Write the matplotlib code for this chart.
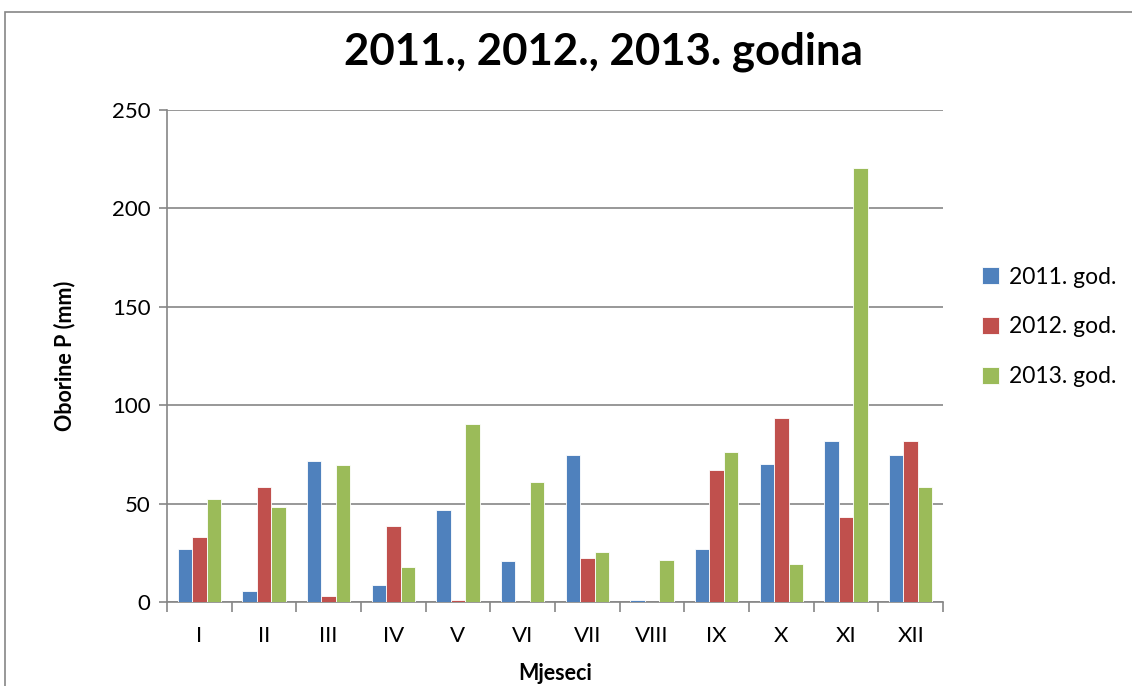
import matplotlib
matplotlib.use("Agg")
import matplotlib.pyplot as plt
import numpy as np
from matplotlib.patches import Rectangle

months = ["I", "II", "III", "IV", "V", "VI", "VII", "VIII", "IX", "X", "XI", "XII"]
series_names = ["2011. god.", "2012. god.", "2013. god."]
y2011 = [26.8, 5.6, 71.9, 8.8, 46.8, 20.8, 74.6, 1.0, 27.1, 70.2, 81.7, 74.6]
y2012 = [32.9, 58.6, 3.2, 38.5, 1.2, 0.0, 22.4, 0.0, 67.1, 93.6, 43.4, 82.0]
y2013 = [52.5, 48.1, 69.8, 17.8, 90.2, 60.8, 25.4, 21.5, 76.1, 19.5, 220.6, 58.6]
yticks = [0, 50, 100, 150, 200, 250]

colors = ["#4F81BD", "#C0504D", "#9BBB59"]
plt.rcParams['font.family'] = ['Lato', 'DejaVu Sans']

fig = plt.figure(figsize=(11.32, 6.86), dpi=100)
ax = fig.add_axes([167/1132, 1-602/686, (943-167)/1132, (602-110)/686])

# chart border
fig.patches.append(Rectangle((5/1132, -0.1), 1.2, 1-12/686+0.1, transform=fig.transFigure,
                             fill=False, edgecolor="#868686", linewidth=1.2))

x = np.arange(len(months))
w = 1/4.5
for i, (vals, c, name) in enumerate(zip([y2011, y2012, y2013], colors, series_names)):
    ax.bar(x + (i-1)*w, vals, width=w, color=c, edgecolor="#ffffff", linewidth=0.6,
           label=name, zorder=3)

ax.set_xlim(-0.5, len(months)-0.5)
ax.set_ylim(0, 250)
ax.set_yticks(yticks)
ax.set_yticklabels([str(t) for t in yticks], fontsize=16)
ax.set_xticks(x)
ax.set_xticklabels(months, fontsize=16)
ax.tick_params(axis='x', which='major', length=0, pad=17)
ax.set_xticks(np.arange(-0.5, len(months)), minor=True)
ax.tick_params(axis='x', which='minor', length=7, width=1.2, color="#868686", direction='out')
ax.tick_params(axis='y', length=6, width=1.2, color="#868686", direction='out', pad=6)
ax.grid(axis='y', color="#868686", linewidth=1.2, zorder=0)
for s in ["top", "right"]:
    ax.spines[s].set_visible(False)
for s in ["left", "bottom"]:
    ax.spines[s].set_color("#868686")
    ax.spines[s].set_linewidth(1.2)

ax.set_ylabel("Oborine P (mm)", fontsize=15.5, fontweight='bold')
ax.yaxis.set_label_coords((75-167)/776, 0.5)
ax.set_xlabel("Mjeseci", fontsize=15.5, fontweight='bold')
ax.xaxis.set_label_coords(0.5, (602-663)/492)
fig.text(603/1132, 1-52/686, "2011., 2012., 2013. godina", fontsize=31.5, fontweight='bold',
         ha='center', va='center')

leg = fig.legend(loc='center left', bbox_to_anchor=(982/1132, 1-327/686),
                 bbox_transform=fig.transFigure, frameon=False, fontsize=16.5,
                 handlelength=0.75, handleheight=0.75, labelspacing=1.25, handletextpad=0.45,
                 borderpad=0, borderaxespad=0)

fig.savefig("out.png", dpi=100)
